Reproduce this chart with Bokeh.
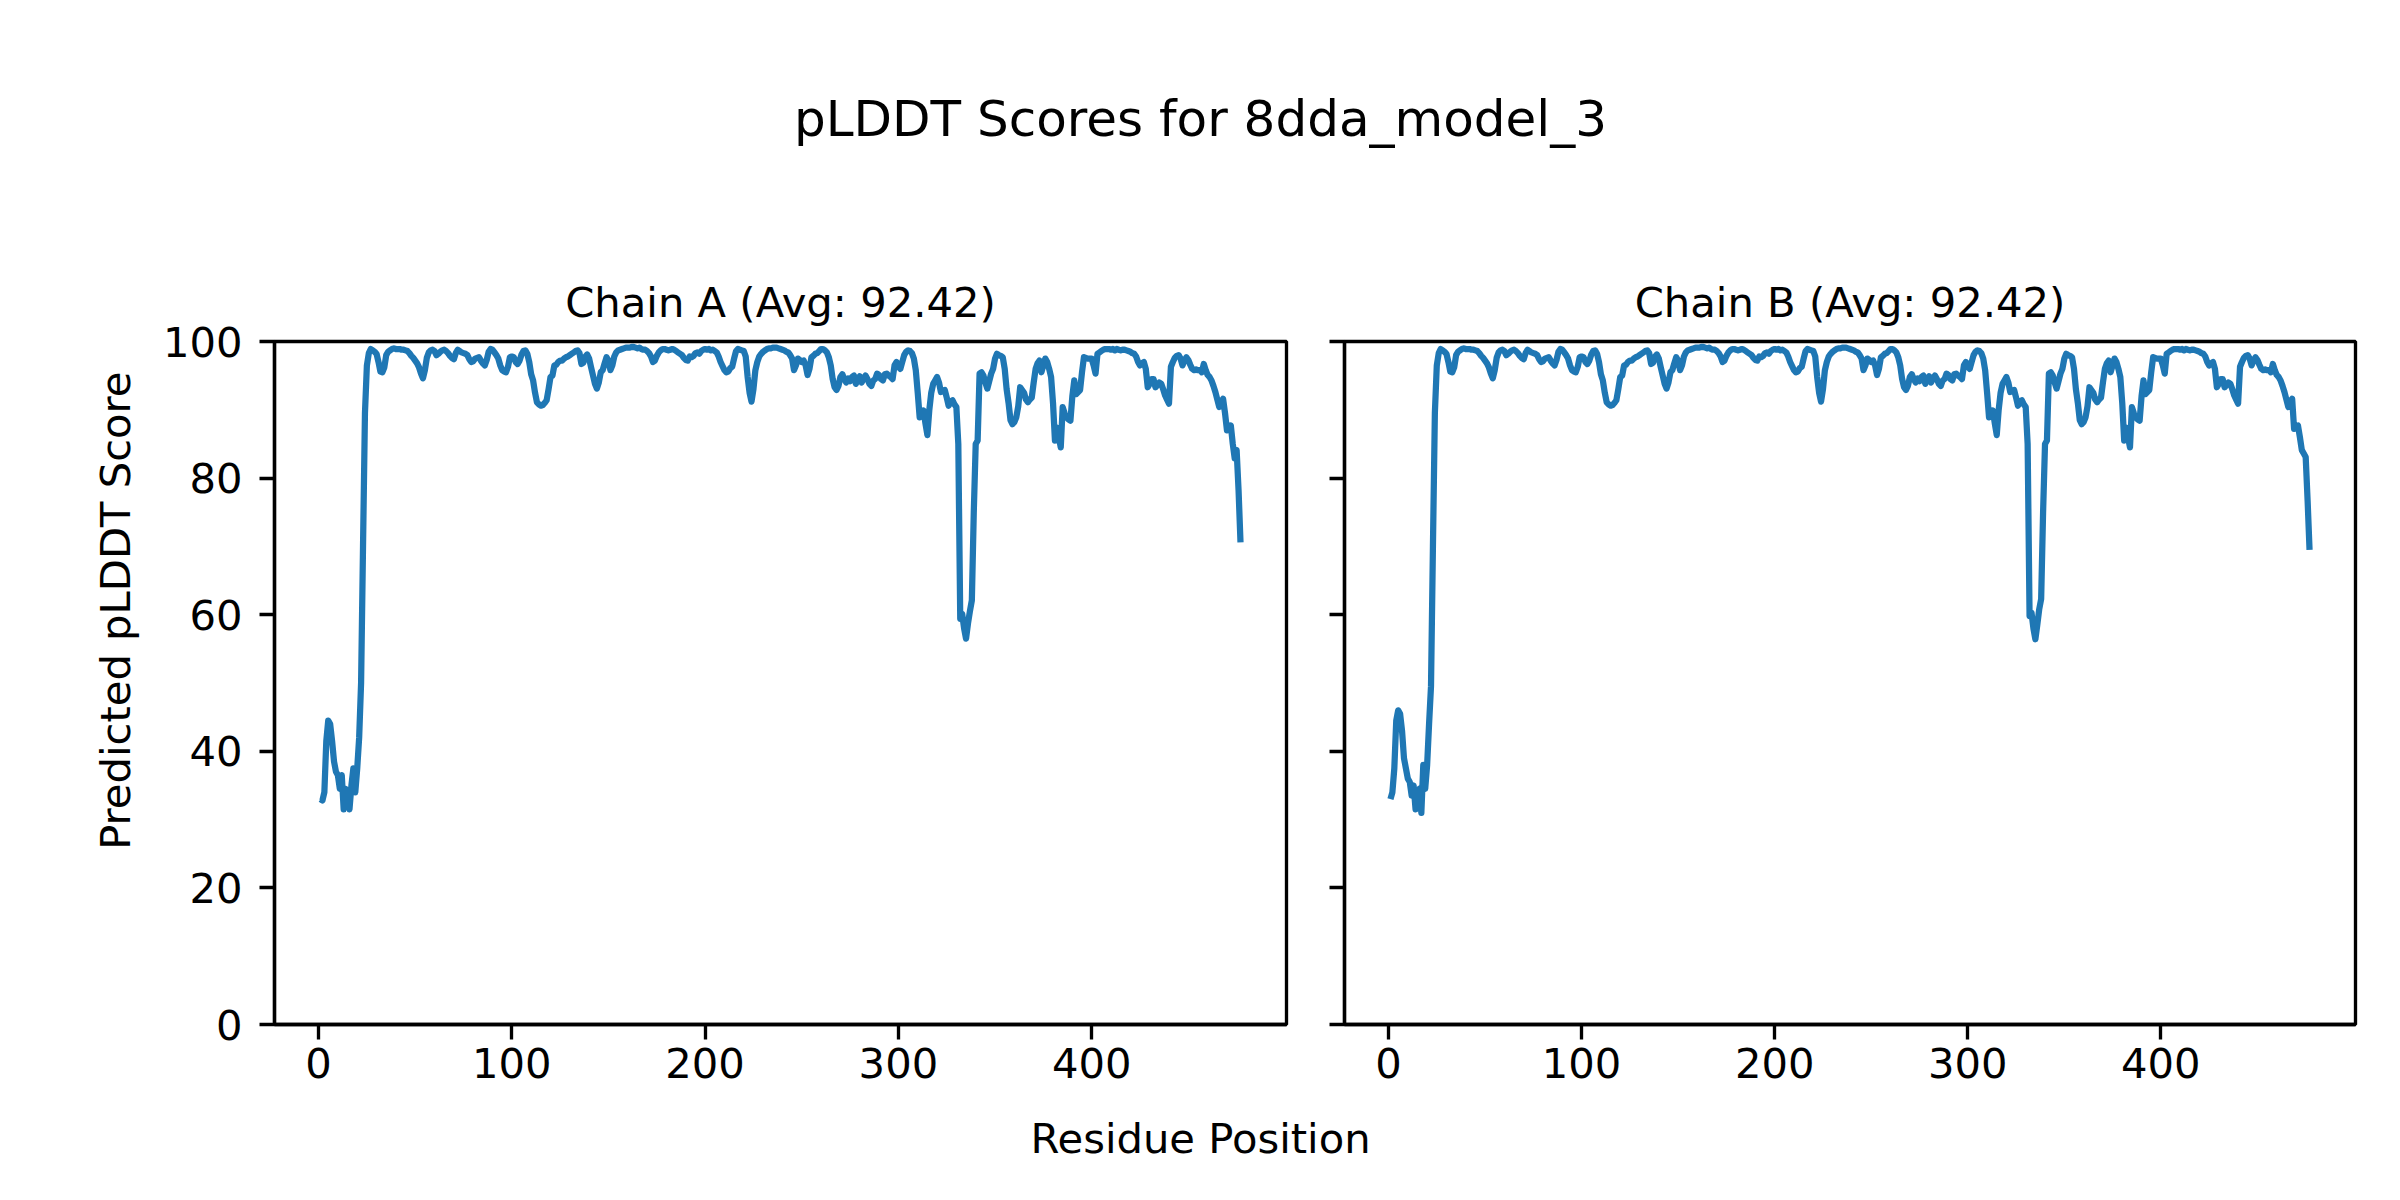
import math
from bokeh.plotting import figure
from bokeh.layouts import column, row
from bokeh.models import Range1d, FixedTicker
from bokeh.embed import file_html
from bokeh.resources import INLINE
from bokeh.core.properties import value

SUPTITLE = "pLDDT Scores for 8dda_model_3"
X_LABEL = "Residue Position"
Y_LABEL = "Predicted pLDDT Score"
TITLE_A = "Chain A (Avg: 92.42)"
TITLE_B = "Chain B (Avg: 92.42)"
X_TICKS = [0, 100, 200, 300, 400]
Y_TICKS = [0, 20, 40, 60, 80, 100]

residues = list(range(1, 478))

chain_a = [
    33.0, 32.8, 34.0, 41.5, 44.5, 44.0, 41.5, 38.5, 37.0, 36.5,
    34.5, 36.5, 31.5, 34.5, 33.5, 31.5, 35.0, 37.5, 34.0, 37.5,
    42.0, 50.0, 70.0, 89.5, 96.5, 98.3, 98.9, 98.7, 98.5, 98.2,
    97.0, 95.6, 95.5, 96.2, 98.0, 98.5, 98.7, 98.9, 99.0, 98.9,
    98.9, 98.9, 98.8, 98.8, 98.7, 98.6, 98.3, 97.9, 97.6, 97.2,
    96.8, 96.2, 95.3, 94.6, 95.8, 97.6, 98.4, 98.7, 98.8, 98.6,
    98.0, 98.2, 98.5, 98.7, 98.8, 98.6, 98.3, 97.9, 97.6, 97.4,
    98.3, 98.8, 98.6, 98.4, 98.3, 98.2, 98.0, 97.4, 97.0, 97.1,
    97.5, 97.6, 97.7, 97.2, 96.8, 96.5, 97.3, 98.5, 98.9, 98.8,
    98.4, 98.0, 97.5, 96.5, 95.8, 95.6, 95.5, 96.3, 97.7, 97.8,
    97.7, 97.0, 96.7, 97.2, 98.1, 98.6, 98.7, 98.2, 97.0, 95.2,
    94.3, 92.5, 91.1, 90.8, 90.6, 90.7, 91.0, 91.4, 93.0, 94.8,
    95.0, 96.5, 96.6, 97.0, 97.2, 97.2, 97.5, 97.7, 97.8, 98.0,
    98.2, 98.4, 98.6, 98.7, 98.3, 96.7, 96.9, 97.8, 98.1, 97.5,
    96.2, 95.0, 93.8, 93.1, 94.0, 95.5, 95.8, 96.8, 97.7, 97.2,
    95.8, 96.5, 97.8, 98.4, 98.7, 98.8, 98.9, 99.0, 99.1, 99.1,
    99.1, 99.2, 99.2, 99.1, 99.0, 99.1, 98.9, 98.8, 98.8, 98.6,
    98.3, 97.8, 97.0, 97.2, 97.9, 98.4, 98.7, 98.9, 98.9, 98.8,
    98.7, 98.8, 98.9, 98.8, 98.6, 98.4, 98.2, 98.0, 97.6, 97.3,
    97.2, 97.8, 97.7, 97.9, 98.3, 98.4, 98.2, 98.6, 98.8, 98.9,
    98.8, 98.9, 98.7, 98.8, 98.6, 98.4, 97.8, 97.0, 96.4, 95.8,
    95.5, 95.6, 96.1, 96.3, 97.5, 98.6, 98.9, 98.8, 98.7, 98.6,
    97.8, 94.8, 92.5, 91.2, 93.0, 95.8, 97.0, 97.8, 98.2, 98.5,
    98.7, 98.9, 99.0, 99.0, 99.1, 99.1, 99.1, 99.0, 98.9, 98.8,
    98.7, 98.5, 98.4, 98.0, 97.5, 95.8, 96.5, 97.5, 97.3, 97.0,
    97.2, 96.5, 95.1, 96.0, 97.7, 97.9, 98.2, 98.3, 98.6, 98.9,
    98.9, 98.7, 98.4, 97.7, 96.5, 94.5, 93.3, 92.9, 93.5, 94.8,
    95.2, 94.5, 94.0, 94.6, 94.2, 94.8, 95.0, 93.8, 94.5, 94.9,
    94.0, 94.6, 95.0, 94.5, 93.8, 93.5, 94.3, 94.5, 95.3, 95.1,
    94.5, 94.3, 95.2, 95.3, 95.0, 94.8, 94.5, 96.5, 97.0, 96.3,
    96.0, 97.0, 98.0, 98.5, 98.7, 98.6, 98.3, 97.5, 95.8, 92.5,
    88.9, 89.5, 89.9, 88.0, 86.3, 90.0, 92.5, 93.8, 94.3, 94.8,
    94.0, 92.6, 92.8, 92.9, 91.8, 90.6, 91.2, 91.4, 90.8, 90.4,
    85.0, 59.4, 60.1, 58.0, 56.5, 58.7, 60.5, 62.1, 75.0, 85.0,
    85.5, 95.3, 95.5, 95.0, 94.0, 93.1, 94.2, 95.3, 96.0, 97.5,
    98.2, 98.0, 97.9, 97.7, 96.0, 93.0, 91.0, 88.5, 87.9, 88.2,
    88.9, 90.5, 93.3, 92.9, 92.5, 91.5, 91.1, 91.5, 91.8, 94.0,
    96.0, 96.8, 97.2, 95.5, 96.5, 97.5, 97.0, 96.0, 94.8, 91.0,
    85.5, 87.4, 86.0, 84.5, 90.4, 89.5, 88.9, 88.6, 88.4, 92.0,
    94.3, 92.3, 92.6, 92.9, 95.5, 97.7, 97.6, 97.5, 97.5, 97.5,
    96.5, 95.3, 98.2, 98.4, 98.6, 98.8, 98.9, 98.9, 98.9, 98.8,
    98.9, 98.7, 98.9, 98.8, 98.7, 98.8, 98.8, 98.7, 98.6, 98.5,
    98.3, 98.2, 97.8, 97.0, 96.5, 96.8, 97.0, 96.0, 93.3, 93.8,
    94.5, 94.5, 93.3, 93.6, 94.0, 93.8, 93.0, 92.1, 91.5, 90.9,
    96.3, 97.0, 97.6, 97.9, 98.0, 97.5, 96.5, 97.2, 97.7, 97.3,
    96.6, 96.0, 95.8, 95.9, 95.8, 95.8, 95.5, 96.7, 95.8, 95.1,
    94.8, 94.3, 93.5, 92.6, 91.5, 90.4, 91.2, 91.6, 89.5, 87.0,
    87.3, 87.7, 85.0, 82.9, 84.1, 78.2, 70.6,
]

chain_b = [
    33.0, 34.0, 37.5, 44.5, 46.0, 45.5, 43.0, 39.0, 37.5, 36.0,
    35.5, 33.5, 35.0, 31.5, 34.0, 34.5, 31.0, 38.0, 34.5, 38.0,
    44.0, 49.5, 70.0, 89.5, 96.5, 98.3, 98.9, 98.7, 98.5, 98.2,
    97.0, 95.6, 95.5, 96.2, 98.0, 98.5, 98.7, 98.9, 99.0, 98.9,
    98.9, 98.9, 98.8, 98.8, 98.7, 98.6, 98.3, 97.9, 97.6, 97.2,
    96.8, 96.2, 95.3, 94.6, 95.8, 97.6, 98.4, 98.7, 98.8, 98.6,
    98.0, 98.2, 98.5, 98.7, 98.8, 98.6, 98.3, 97.9, 97.6, 97.4,
    98.3, 98.8, 98.6, 98.4, 98.3, 98.2, 98.0, 97.4, 97.0, 97.1,
    97.5, 97.6, 97.7, 97.2, 96.8, 96.5, 97.3, 98.5, 98.9, 98.8,
    98.4, 98.0, 97.5, 96.5, 95.8, 95.6, 95.5, 96.3, 97.7, 97.8,
    97.7, 97.0, 96.7, 97.2, 98.1, 98.6, 98.7, 98.2, 97.0, 95.2,
    94.3, 92.5, 91.1, 90.8, 90.6, 90.7, 91.0, 91.4, 93.0, 94.8,
    95.0, 96.5, 96.6, 97.0, 97.2, 97.2, 97.5, 97.7, 97.8, 98.0,
    98.2, 98.4, 98.6, 98.7, 98.3, 96.7, 96.9, 97.8, 98.1, 97.5,
    96.2, 95.0, 93.8, 93.1, 94.0, 95.5, 95.8, 96.8, 97.7, 97.2,
    95.8, 96.5, 97.8, 98.4, 98.7, 98.8, 98.9, 99.0, 99.1, 99.1,
    99.1, 99.2, 99.2, 99.1, 99.0, 99.1, 98.9, 98.8, 98.8, 98.6,
    98.3, 97.8, 97.0, 97.2, 97.9, 98.4, 98.7, 98.9, 98.9, 98.8,
    98.7, 98.8, 98.9, 98.8, 98.6, 98.4, 98.2, 98.0, 97.6, 97.3,
    97.2, 97.8, 97.7, 97.9, 98.3, 98.4, 98.2, 98.6, 98.8, 98.9,
    98.8, 98.9, 98.7, 98.8, 98.6, 98.4, 97.8, 97.0, 96.4, 95.8,
    95.5, 95.6, 96.1, 96.3, 97.5, 98.6, 98.9, 98.8, 98.7, 98.6,
    97.8, 94.8, 92.5, 91.2, 93.0, 95.8, 97.0, 97.8, 98.2, 98.5,
    98.7, 98.9, 99.0, 99.0, 99.1, 99.1, 99.1, 99.0, 98.9, 98.8,
    98.7, 98.5, 98.4, 98.0, 97.5, 95.8, 96.5, 97.5, 97.3, 97.0,
    97.2, 96.5, 95.1, 96.0, 97.7, 97.9, 98.2, 98.3, 98.6, 98.9,
    98.9, 98.7, 98.4, 97.7, 96.5, 94.5, 93.3, 92.9, 93.5, 94.8,
    95.2, 94.5, 94.0, 94.6, 94.2, 94.8, 95.0, 93.8, 94.5, 94.9,
    94.0, 94.6, 95.0, 94.5, 93.8, 93.5, 94.3, 94.5, 95.3, 95.1,
    94.5, 94.3, 95.2, 95.3, 95.0, 94.8, 94.5, 96.5, 97.0, 96.3,
    96.0, 97.0, 98.0, 98.5, 98.7, 98.6, 98.3, 97.5, 95.8, 92.5,
    88.9, 89.5, 89.9, 88.0, 86.3, 90.0, 92.5, 93.8, 94.3, 94.8,
    94.0, 92.6, 92.8, 92.9, 91.8, 90.6, 91.2, 91.4, 90.8, 90.4,
    85.0, 59.8, 60.3, 58.0, 56.4, 58.5, 60.8, 62.3, 75.0, 85.0,
    85.5, 95.3, 95.5, 95.0, 94.0, 93.1, 94.2, 95.3, 96.0, 97.5,
    98.2, 98.0, 97.9, 97.7, 96.0, 93.0, 91.0, 88.5, 87.9, 88.2,
    88.9, 90.5, 93.3, 92.9, 92.5, 91.5, 91.1, 91.5, 91.8, 94.0,
    96.0, 96.8, 97.2, 95.5, 96.5, 97.5, 97.0, 96.0, 94.8, 91.0,
    85.5, 87.4, 86.0, 84.5, 90.4, 89.5, 88.9, 88.6, 88.4, 92.0,
    94.3, 92.3, 92.6, 92.9, 95.5, 97.7, 97.6, 97.5, 97.5, 97.5,
    96.5, 95.3, 98.2, 98.4, 98.6, 98.8, 98.9, 98.9, 98.9, 98.8,
    98.9, 98.7, 98.9, 98.8, 98.7, 98.8, 98.8, 98.7, 98.6, 98.5,
    98.3, 98.2, 97.8, 97.0, 96.5, 96.8, 97.0, 96.0, 93.3, 93.8,
    94.5, 94.5, 93.3, 93.6, 94.0, 93.8, 93.0, 92.1, 91.5, 90.9,
    96.3, 97.0, 97.6, 97.9, 98.0, 97.5, 96.5, 97.2, 97.7, 97.3,
    96.6, 96.0, 95.8, 95.9, 95.8, 95.8, 95.5, 96.7, 95.8, 95.1,
    94.8, 94.3, 93.5, 92.6, 91.5, 90.4, 91.2, 91.6, 87.2, 87.5,
    87.7, 86.0, 84.1, 83.6, 83.1, 76.7, 69.5,
]

# ---------------------------------------------------------------- styling
FONT = "DejaVu Sans"
BLUE = "#1f77b4"
TICK_FS = "41.7px"
LW_AXIS = 3.33
X_RANGE = (-22.8, 500.8)
ROW_H = 888


def style_panel(p, title, show_ylabels):
    p.title.text = title
    p.title.align = "center"
    p.title.text_font = FONT
    p.title.text_font_size = "41.7px"
    p.title.text_font_style = "normal"
    p.title.text_color = "black"
    p.title.standoff = 29
    p.grid.visible = False
    p.outline_line_color = "black"
    p.outline_line_width = LW_AXIS
    p.background_fill_color = "white"
    p.border_fill_color = "white"
    for ax in (p.xaxis[0], p.yaxis[0]):
        ax.axis_line_color = "black"
        ax.axis_line_width = LW_AXIS
        ax.major_tick_line_color = "black"
        ax.major_tick_line_width = LW_AXIS
        ax.major_tick_out = 15
        ax.major_tick_in = 0
        ax.minor_tick_line_color = None
        ax.major_label_text_font = FONT
        ax.major_label_text_font_size = TICK_FS
        ax.major_label_text_color = "black"
    p.xaxis[0].ticker = FixedTicker(ticks=X_TICKS)
    p.yaxis[0].ticker = FixedTicker(ticks=Y_TICKS)
    p.xaxis[0].major_label_standoff = 8
    p.yaxis[0].major_label_standoff = 17
    if not show_ylabels:
        p.yaxis[0].major_label_overrides = {t: "" for t in Y_TICKS}
        p.yaxis[0].major_label_standoff = 0


def text_strip(width, height):
    f = figure(width=width, height=height, output_backend="svg", toolbar_location=None,
               title=None,
               x_range=Range1d(0, width), y_range=Range1d(0, height),
               x_axis_location=None, y_axis_location=None,
               min_border=0, outline_line_color=None)
    f.grid.visible = False
    return f


# top strip: super title
top = text_strip(2384, 208)
top.text(x=[1200], y=[90], text=[SUPTITLE], text_font=value(FONT),
         text_font_size="50px", text_align="center", text_baseline="alphabetic",
         text_color="black")

# left strip: shared y label
left = text_strip(148, ROW_H)
left.text(x=[115], y=[538], text=[Y_LABEL], angle=math.pi / 2,
          text_font=value(FONT), text_font_size="41.7px",
          text_align="center", text_baseline="middle", text_color="black")

# panel A
pa = figure(width=1167, height=ROW_H, output_backend="svg", toolbar_location=None,
            x_range=Range1d(*X_RANGE), y_range=Range1d(0, 100),
            min_border_left=126, min_border_right=29,
            min_border_top=133, min_border_bottom=72)
pa.line(residues, chain_a, line_color=BLUE, line_width=6.25, line_join="round")
style_panel(pa, TITLE_A, True)

# panel B
pb = figure(width=1069, height=ROW_H, output_backend="svg", toolbar_location=None,
            x_range=Range1d(*X_RANGE), y_range=pa.y_range,
            min_border_left=29, min_border_right=29,
            min_border_top=133, min_border_bottom=72)
pb.line(residues, chain_b, line_color=BLUE, line_width=6.25, line_join="round")
style_panel(pb, TITLE_B, False)

# bottom strip: shared x label
bottom = text_strip(2384, 96)
bottom.text(x=[1200], y=[54], text=[X_LABEL], text_font=value(FONT),
            text_font_size="41.7px", text_align="center", text_baseline="alphabetic",
            text_color="black")

layout = column(top, row(left, pa, pb), bottom)
open("out.html", "w").write(file_html(layout, INLINE))
